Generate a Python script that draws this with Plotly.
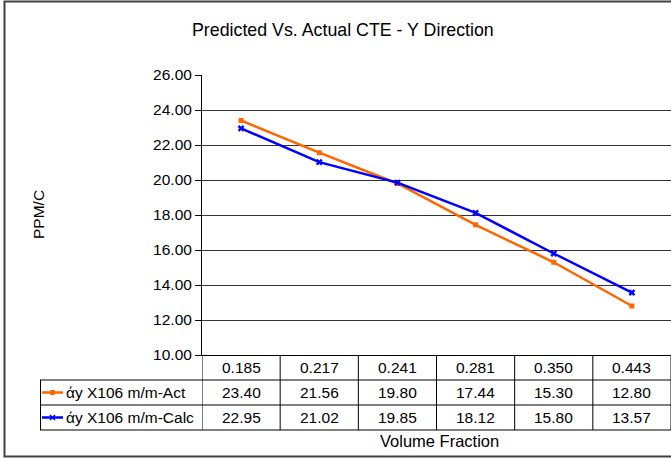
import plotly.graph_objects as go

# ---- data ----
volume_fraction = ["0.185", "0.217", "0.241", "0.281", "0.350", "0.443"]
act_name = "άy X106 m/m-Act"
calc_name = "άy X106 m/m-Calc"
act_values = [23.40, 21.56, 19.80, 17.44, 15.30, 12.80]
calc_values = [22.95, 21.02, 19.85, 18.12, 15.80, 13.57]
y_ticks = [10, 12, 14, 16, 18, 20, 22, 24, 26]

W, H = 671, 458
def fx(x):
    return x / W
def fy(y):
    return 1 - y / H

ORANGE = "#FF6600"
BLUE = "#0000FF"
FONT = "Liberation Sans, Arial, sans-serif"
FS = 15.5

fig = go.Figure()
fig.add_trace(go.Scatter(x=volume_fraction, y=act_values, name=act_name,
                         mode="lines+markers",
                         line=dict(color=ORANGE, width=2.5),
                         marker=dict(symbol="square", size=5, color=ORANGE)))
fig.add_trace(go.Scatter(x=volume_fraction, y=calc_values, name=calc_name,
                         mode="lines+markers",
                         line=dict(color=BLUE, width=2.5),
                         marker=dict(symbol="x", size=6, color=BLUE)))

shapes = []
annotations = []

def txt(x, y, text, xref="paper", xanchor="center", size=FS, angle=0):
    annotations.append(dict(x=x, xref=xref, y=y, yref="paper",
                            xanchor=xanchor, yanchor="middle",
                            text=text, showarrow=False, textangle=angle,
                            font=dict(family=FONT, size=size, color="#000")))

def hline(x0, x1, y, color="#000", width=1):
    shapes.append(dict(type="line", xref="paper", yref="paper",
                       x0=fx(x0), x1=fx(x1), y0=fy(y), y1=fy(y),
                       line=dict(color=color, width=width)))

# outer chart border
shapes.append(dict(type="rect", xref="paper", yref="paper",
                   x0=fx(4.5), y0=fy(1.5), x1=fx(690), y1=fy(456.5),
                   line=dict(color="#404040", width=2)))

# data table
n = len(volume_fraction)
hline(40, 671, 380)
hline(40, 671, 405)
hline(40, 671, 430)
shapes.append(dict(type="line", xref="paper", yref="paper",
                   x0=fx(40.5), x1=fx(40.5), y0=fy(380), y1=fy(430),
                   line=dict(color="#000", width=1)))
for i in range(n + 1):
    shapes.append(dict(type="line", xref="x", yref="paper",
                       x0=i - 0.5, x1=i - 0.5, y0=fy(355), y1=fy(430),
                       line=dict(color="#000", width=1)))

for i, cat in enumerate(volume_fraction):
    txt(i, fy(367.5), cat, xref="x")
    txt(i, fy(392.5), f"{act_values[i]:.2f}", xref="x")
    txt(i, fy(417.5), f"{calc_values[i]:.2f}", xref="x")

# legend keys
for yc, color, name, sym in [(392.5, ORANGE, act_name, "sq"), (417.5, BLUE, calc_name, "x")]:
    hline(42, 63, yc, color=color, width=2.5)
    if sym == "sq":
        shapes.append(dict(type="rect", xref="paper", yref="paper",
                           x0=fx(50.5), x1=fx(54.5), y0=fy(yc - 2), y1=fy(yc + 2),
                           fillcolor=color, line=dict(color=color, width=1)))
    else:
        for a, b in [(-2.5, 2.5), (2.5, -2.5)]:
            shapes.append(dict(type="line", xref="paper", yref="paper",
                               x0=fx(50), x1=fx(55), y0=fy(yc + a), y1=fy(yc + b),
                               line=dict(color=color, width=1.5)))
    txt(fx(64), fy(yc), name, xanchor="left")

# title and axis titles
txt(fx(343), fy(30), "Predicted Vs. Actual CTE - Y Direction", size=17.8)
txt(fx(439), fy(441), "Volume Fraction", size=16.5)
txt(fx(38), fy(215), "PPM/C", angle=-90)

fig.update_layout(
    width=W, height=H,
    margin=dict(l=0, r=0, t=0, b=0, pad=0, autoexpand=False),
    paper_bgcolor="white", plot_bgcolor="white",
    showlegend=False,
    shapes=shapes,
    annotations=annotations,
    xaxis=dict(domain=[fx(202), fx(671)], type="category",
               categoryorder="array", categoryarray=volume_fraction,
               range=[-0.5, n - 0.5], showticklabels=False, ticks="",
               showgrid=False, zeroline=False, automargin=False,
               showline=True, linecolor="#000", linewidth=1),
    yaxis=dict(domain=[fy(355), fy(75)], range=[10, 26],
               tickvals=y_ticks, tickformat=".2f", automargin=False,
               ticks="outside", ticklen=6, tickcolor="#000", tickwidth=1,
               showgrid=True, gridcolor="#333", gridwidth=1,
               zeroline=False, showline=True, linecolor="#000", linewidth=1,
               tickfont=dict(family=FONT, size=FS, color="#000")),
)

fig.write_html("out.html")
